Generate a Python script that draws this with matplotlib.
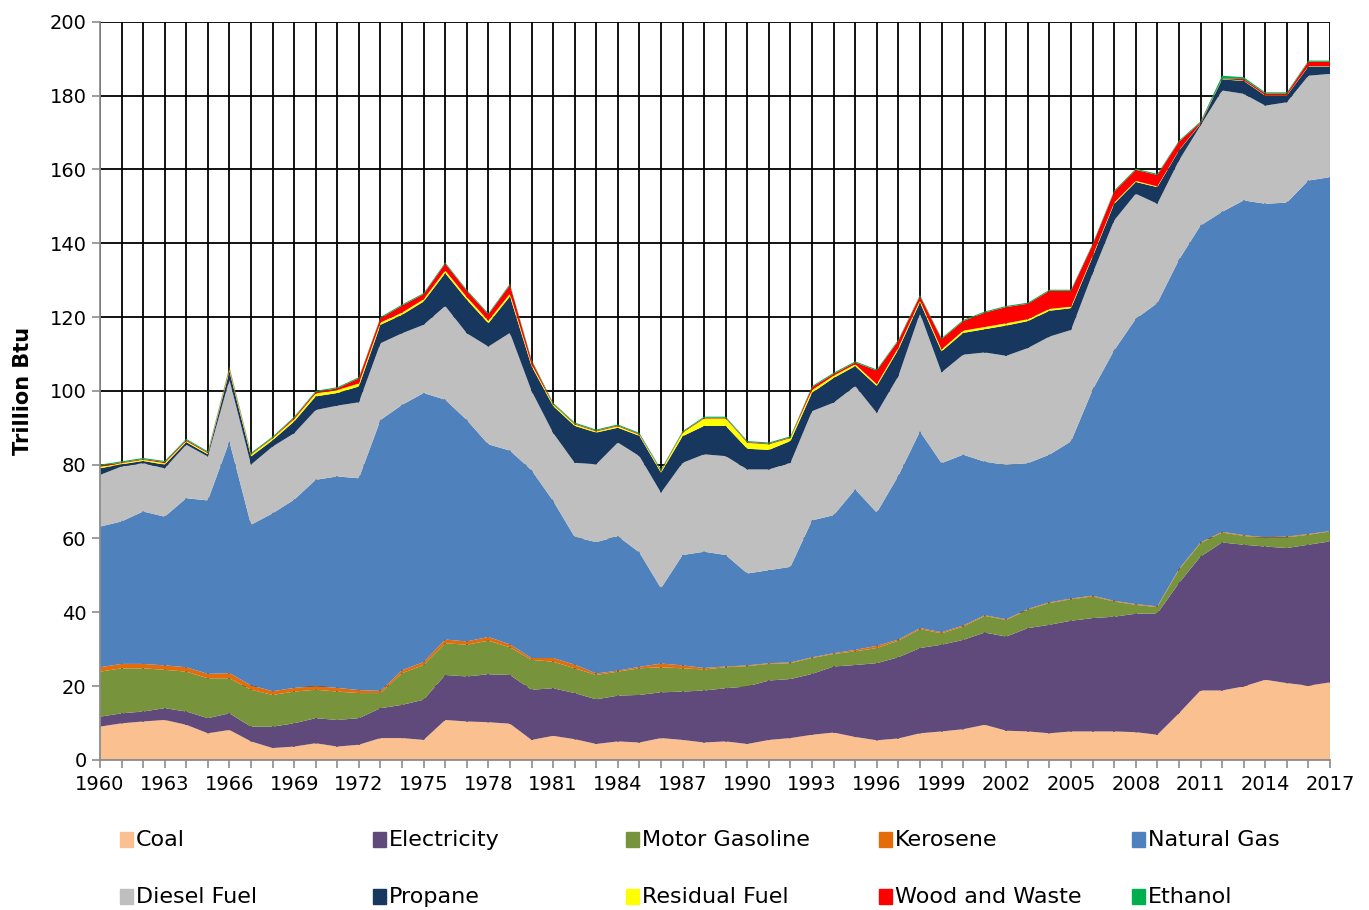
import numpy as np
import matplotlib
matplotlib.use("Agg")
import matplotlib.pyplot as plt
from matplotlib.patches import Rectangle

# ---------------- DATA (Trillion Btu) ---------------- #
years = list(range(1960, 2018))

coal = [9.0, 9.9, 10.4, 10.8, 9.5, 7.2, 8.1, 5.0, 3.2, 3.6,
        4.5, 3.6, 4.1, 5.9, 5.9, 5.4, 10.8, 10.4, 10.2, 9.8,
        5.4, 6.5, 5.6, 4.3, 5.0, 4.7, 5.9, 5.4, 4.7, 5.0,
        4.3, 5.4, 5.9, 6.8, 7.4, 6.2, 5.3, 5.8, 7.2, 7.7,
        8.3, 9.5, 7.9, 7.7, 7.2, 7.7, 7.7, 7.7, 7.5, 6.8,
        12.6, 18.8, 18.8, 19.9, 21.7, 20.8, 20.1, 21.0]

electricity = [2.7, 2.7, 2.7, 3.2, 3.6, 4.1, 4.5, 4.0, 5.8, 6.3,
               6.8, 7.2, 7.2, 8.1, 9.0, 10.9, 12.2, 12.2, 13.0, 13.2,
               13.6, 12.9, 12.5, 12.1, 12.4, 12.9, 12.4, 13.1, 14.1, 14.4,
               15.6, 16.1, 16.0, 16.5, 17.9, 19.5, 20.9, 22.0, 23.1, 23.5,
               24.2, 25.0, 25.5, 28.0, 29.4, 30.0, 30.7, 31.1, 32.1, 32.9,
               35.3, 36.3, 40.1, 38.4, 36.1, 36.6, 38.2, 38.2]

motor_gasoline = [12.2, 12.2, 11.7, 10.4, 10.8, 10.8, 9.5, 10.0, 8.6, 8.6,
                  7.7, 7.7, 6.8, 4.1, 8.6, 9.4, 8.6, 8.6, 9.1, 7.5,
                  8.1, 7.2, 6.7, 6.6, 6.5, 7.2, 6.8, 6.3, 5.7, 5.7,
                  5.5, 4.5, 4.3, 4.3, 3.4, 3.7, 4.1, 4.5, 5.1, 3.1,
                  3.6, 4.5, 4.5, 5.0, 5.9, 5.8, 5.9, 4.1, 2.4, 1.7,
                  3.6, 3.6, 2.7, 2.4, 2.3, 2.9, 2.7, 2.7]

kerosene = [1.2, 1.2, 1.2, 1.2, 1.2, 1.2, 1.4, 1.2, 1.0, 1.0,
            1.0, 1.0, 0.8, 0.6, 0.8, 0.8, 1.0, 0.9, 1.0, 0.8,
            0.5, 1.0, 1.0, 0.4, 0.3, 0.4, 1.0, 0.8, 0.4, 0.2,
            0.2, 0.2, 0.2, 0.2, 0.2, 0.4, 0.6, 0.3, 0.3, 0.3,
            0.3, 0.2, 0.2, 0.2, 0.2, 0.2, 0.2, 0.2, 0.2, 0.2,
            0.2, 0.2, 0.2, 0.2, 0.2, 0.2, 0.2, 0.1]

natural_gas = [38.1, 38.6, 41.3, 40.3, 45.8, 47.0, 62.8, 43.5, 48.2, 51.0,
               55.9, 57.3, 57.4, 73.4, 71.9, 72.9, 65.0, 60.0, 52.2, 52.5,
               50.9, 42.6, 34.6, 35.6, 36.4, 31.0, 20.4, 29.9, 31.5, 30.2,
               24.9, 25.2, 25.9, 37.1, 37.4, 43.5, 36.1, 44.4, 53.3, 45.8,
               46.3, 41.6, 41.8, 39.5, 40.0, 42.6, 55.8, 67.9, 77.3, 82.2,
               83.8, 85.9, 86.7, 90.7, 90.4, 90.5, 95.8, 95.9]

diesel_fuel = [14.0, 14.9, 13.1, 13.1, 14.5, 11.9, 16.7, 16.3, 18.1, 18.0,
               18.9, 19.2, 20.6, 20.8, 19.4, 18.5, 25.4, 23.5, 26.5, 31.9,
               21.5, 18.4, 20.1, 21.1, 25.4, 26.1, 25.9, 25.0, 26.4, 26.8,
               28.2, 27.3, 28.2, 29.6, 30.5, 28.0, 27.0, 27.0, 32.0, 24.6,
               27.1, 29.6, 29.6, 31.2, 32.0, 30.2, 31.5, 35.2, 33.9, 26.9,
               26.9, 27.1, 32.9, 28.9, 26.6, 27.2, 28.4, 28.0]

propane = [1.8, 0.6, 0.6, 1.0, 0.7, 0.6, 2.3, 2.2, 1.7, 3.2,
           3.7, 3.4, 4.3, 5.0, 5.0, 6.3, 8.9, 9.1, 6.3, 9.9,
           6.7, 7.3, 10.0, 8.6, 4.0, 5.5, 5.4, 7.2, 7.7, 8.2,
           5.6, 5.3, 5.9, 5.0, 6.7, 5.4, 7.3, 7.2, 3.0, 5.7,
           5.9, 6.3, 8.2, 7.3, 7.0, 5.9, 4.5, 4.5, 3.2, 4.5,
           2.7, 0.4, 3.0, 3.5, 2.7, 1.8, 2.5, 2.0]

residual_fuel = [0.4, 0.3, 0.3, 0.4, 0.3, 0.3, 0.5, 0.5, 0.5, 0.6,
                 0.8, 0.8, 0.8, 0.6, 0.6, 0.6, 0.7, 0.7, 0.7, 0.7,
                 0.5, 0.4, 0.4, 0.3, 0.4, 0.3, 0.4, 0.9, 2.0, 2.0,
                 1.6, 1.5, 0.8, 0.7, 0.6, 0.5, 0.5, 0.5, 0.5, 0.5,
                 0.6, 0.6, 0.6, 0.5, 0.5, 0.4, 0.3, 0.3, 0.3, 0.2,
                 0.1, 0.1, 0.1, 0.1, 0.1, 0.1, 0.1, 0.1]

wood_and_waste = [0.3, 0.2, 0.2, 0.3, 0.3, 0.2, 0.4, 0.2, 0.2, 0.4,
                  0.4, 0.5, 1.4, 1.2, 1.9, 1.4, 1.9, 1.7, 1.7, 2.4,
                  1.0, 0.2, 0.2, 0.2, 0.2, 0.2, 0.2, 0.2, 0.2, 0.2,
                  0.2, 0.2, 0.2, 0.8, 0.5, 0.5, 3.7, 1.9, 1.2, 2.8,
                  2.6, 3.9, 4.4, 4.2, 4.9, 4.3, 3.0, 3.0, 3.0, 3.1,
                  2.3, 0.3, 0.1, 0.4, 0.5, 0.5, 1.2, 1.2]

ethanol = [0.3] * 52 + [0.8, 0.5, 0.3, 0.3, 0.3, 0.3]

labels = ["Coal", "Electricity", "Motor Gasoline", "Kerosene", "Natural Gas",
          "Diesel Fuel", "Propane", "Residual Fuel", "Wood and Waste", "Ethanol"]
colors = ["#FAC090", "#604A7B", "#77933C", "#E46C0A", "#4F81BD",
          "#BFBFBF", "#17375E", "#FFFF00", "#FF0000", "#00B050"]

series = [coal, electricity, motor_gasoline, kerosene, natural_gas,
          diesel_fuel, propane, residual_fuel, wood_and_waste, ethanol]

# ---------------- PLOT ---------------- #
plt.rcParams["font.family"] = "DejaVu Sans"

fig = plt.figure(figsize=(13.69, 9.10), dpi=100)
ax = fig.add_axes([0.073, 0.165, 0.8985, 0.811])

ax.stackplot(years, *series, colors=colors, linewidth=0, zorder=3)

ax.set_xlim(1960, 2017)
ax.set_ylim(0, 200)
ax.set_yticks(range(0, 201, 20))
ax.set_xticks(range(1960, 2018, 3))
ax.set_xticks(years, minor=True)

# grid behind the areas
ax.grid(True, which="both", axis="x", color="black", linewidth=1.3, zorder=1)
ax.grid(True, which="major", axis="y", color="black", linewidth=1.3, zorder=1)
ax.set_axisbelow(True)

for side in ["top", "right"]:
    ax.spines[side].set_visible(False)
for side in ["left", "bottom"]:
    ax.spines[side].set_color("#8c8c8c")
    ax.spines[side].set_linewidth(1.3)
    ax.spines[side].set_zorder(4)

ax.tick_params(axis="both", which="major", labelsize=14, color="#8c8c8c",
               length=6, width=1.2)
ax.tick_params(axis="x", which="minor", color="#8c8c8c", length=6, width=1.2)
ax.tick_params(axis="x", pad=5)

ax.set_ylabel("Trillion Btu", fontsize=15, fontweight="bold", labelpad=12)

# legend: two rows of five, evenly spaced
for i, (name, col) in enumerate(zip(labels, colors)):
    row, c = divmod(i, 5)
    x0 = 0.0877 + c * 0.1848
    y0 = 0.0769 - row * 0.0626
    fig.patches.append(Rectangle((x0, y0 - 0.008), 0.0095, 0.017,
                                 transform=fig.transFigure, color=col))
    fig.text(x0 + 0.0115, y0, name, fontsize=16, va="center", ha="left")

fig.savefig("out.png", dpi=100)
